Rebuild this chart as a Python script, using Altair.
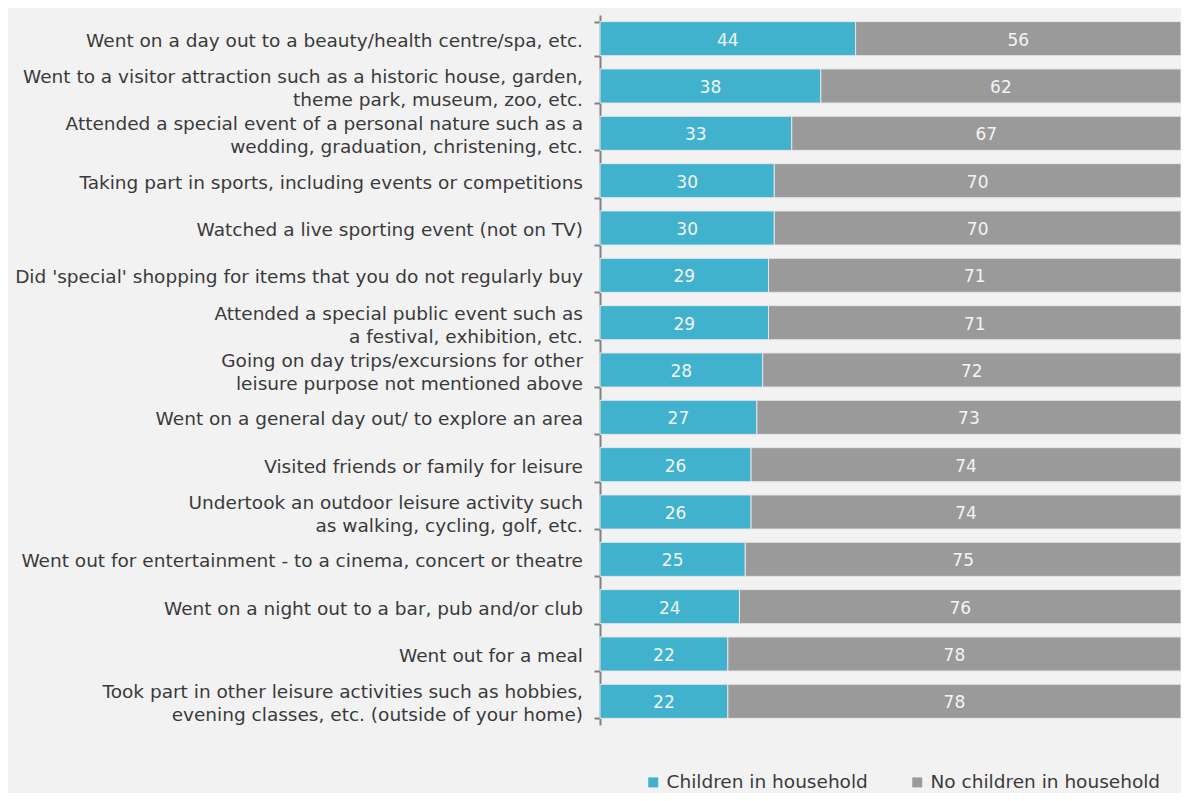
import altair as alt
import pandas as pd

activities = [
    "Went on a day out to a beauty/health centre/spa, etc.",
    "Went to a visitor attraction such as a historic house, garden,\ntheme park, museum, zoo, etc.",
    "Attended a special event of a personal nature such as a\nwedding, graduation, christening, etc.",
    "Taking part in sports, including events or competitions",
    "Watched a live sporting event (not on TV)",
    "Did 'special' shopping for items that you do not regularly buy",
    "Attended a special public event such as\na festival, exhibition, etc.",
    "Going on day trips/excursions for other\nleisure purpose not mentioned above",
    "Went on a general day out/ to explore an area",
    "Visited friends or family for leisure",
    "Undertook an outdoor leisure activity such\nas walking, cycling, golf, etc.",
    "Went out for entertainment - to a cinema, concert or theatre",
    "Went on a night out to a bar, pub and/or club",
    "Went out for a meal",
    "Took part in other leisure activities such as hobbies,\nevening classes, etc. (outside of your home)",
]
children = [44, 38, 33, 30, 30, 29, 29, 28, 27, 26, 26, 25, 24, 22, 22]
no_children = [56, 62, 67, 70, 70, 71, 71, 72, 73, 74, 74, 75, 76, 78, 78]
series = ["Children in household", "No children in household"]
colors = ["#40b2ce", "#9a9a9a"]

rows = []
for i, a in enumerate(activities):
    rows.append({"activity": a, "series": series[0], "value": children[i], "order": 0})
    rows.append({"activity": a, "series": series[1], "value": no_children[i], "order": 1})
df = pd.DataFrame(rows)
cats = pd.DataFrame({"activity": activities})

FONT = "DejaVu Sans"
LABEL_SIZE = 18.5

yscale = alt.Scale(paddingInner=0.28, paddingOuter=0.14)

bars = alt.Chart(df).mark_bar(stroke="#e6e6e6", strokeWidth=1).encode(
    y=alt.Y(
        "activity:N",
        sort=activities,
        title=None,
        scale=yscale,
        axis=alt.Axis(
            labels=False,
            tickSize=6,
            tickColor="#808080",
            tickWidth=2,
            domainColor="#808080",
            domainWidth=2,
            bandPosition=0,
            tickBand="extent",
        ),
    ),
    x=alt.X("value:Q", stack="zero", scale=alt.Scale(domain=[0, 100]), axis=None),
    color=alt.Color(
        "series:N",
        scale=alt.Scale(domain=series, range=colors),
        legend=alt.Legend(
            title=None,
            orient="none",
            direction="horizontal",
            legendX=44,
            legendY=758,
            symbolType="square",
            symbolSize=100,
            symbolStrokeWidth=0,
            labelFont=FONT,
            labelFontSize=LABEL_SIZE,
            labelColor="#3a3a3a",
            labelLimit=400,
            columnPadding=40,
            labelOffset=4,
            padding=0,
        ),
    ),
    order=alt.Order("order:Q"),
)

values = alt.Chart(df).transform_stack(
    stack="value", groupby=["activity"], as_=["v0", "v1"], sort=[alt.SortField("order")]
).transform_calculate(mid="(datum.v0 + datum.v1) / 2").mark_text(
    color="#f4f4f4", font=FONT, fontSize=17, dy=2
).encode(
    y=alt.Y("activity:N", sort=activities, scale=yscale),
    x=alt.X("mid:Q"),
    text=alt.Text("value:Q"),
)

single = alt.Chart(cats).transform_filter(
    "indexof(datum.activity, '\\n') < 0"
).mark_text(
    align="right", baseline="middle", font=FONT, fontSize=LABEL_SIZE,
    color="#3a3a3a", dx=-17, dy=2,
).encode(
    y=alt.Y("activity:N", sort=activities, scale=yscale),
    x=alt.value(0),
    text="activity:N",
)

double = alt.Chart(cats).transform_filter(
    "indexof(datum.activity, '\\n') >= 0"
).mark_text(
    align="right", baseline="line-bottom", font=FONT, fontSize=LABEL_SIZE,
    color="#3a3a3a", dx=-17, dy=3, lineBreak="\n", lineHeight=23,
).encode(
    y=alt.Y("activity:N", sort=activities, scale=yscale),
    x=alt.value(0),
    text="activity:N",
)

chart = (
    alt.layer(bars, values, single, double)
    .properties(
        width=581,
        height=710,
        autosize=alt.AutoSizeParams(type="none"),
        padding={"left": 592, "top": 7, "right": 0, "bottom": 68},
        background="#f2f2f2",
    )
    .configure_view(stroke=None)
)
chart.save("out.html", embed_options={"renderer": "svg", "actions": False})
